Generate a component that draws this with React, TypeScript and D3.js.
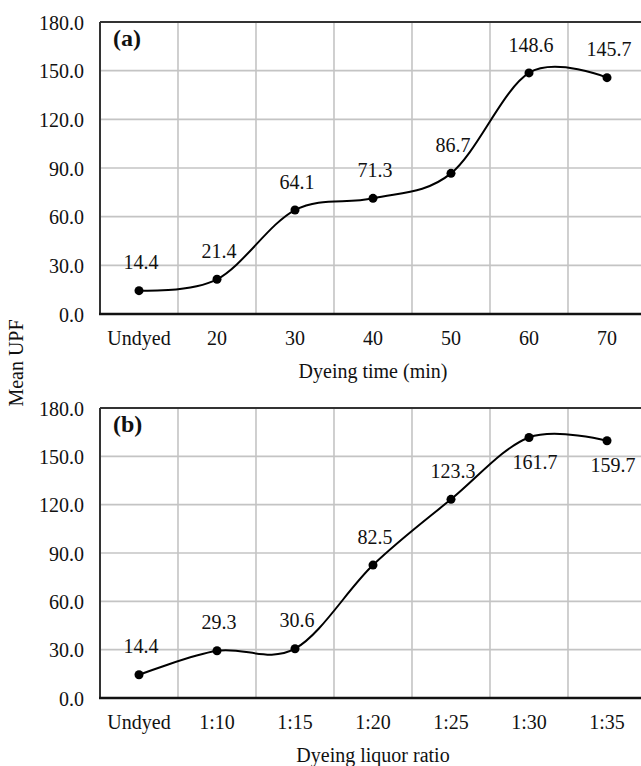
import * as d3 from "d3";

const timeCategories = ["Undyed", "20", "30", "40", "50", "60", "70"];
const timeUpf = [14.4, 21.4, 64.1, 71.3, 86.7, 148.6, 145.7];

const ratioCategories = ["Undyed", "1:10", "1:15", "1:20", "1:25", "1:30", "1:35"];
const ratioUpf = [14.4, 29.3, 30.6, 82.5, 123.3, 161.7, 159.7];
// labels of the last two points of (b) sit below the marker
const ratioLabelBelow = [false, false, false, false, false, true, true];

const yTicks = [0, 30, 60, 90, 120, 150, 180];

const width = 641;
const height = 766;
const left = 100;
const bandWidth = 78;
const font = "'Liberation Serif', 'Times New Roman', serif";

type PanelProps = {
  tag: string;
  categories: string[];
  values: number[];
  below?: boolean[];
  title: string;
  top: number;
  bottom: number;
};

function Panel({ tag, categories, values, below, title, top, bottom }: PanelProps) {
  const x = d3
    .scaleBand<string>()
    .domain(categories)
    .range([left, left + bandWidth * categories.length])
    .padding(0);
  const y = d3.scaleLinear().domain([0, 180]).range([bottom, top]);
  const right = left + bandWidth * categories.length;

  const points = categories.map((c, i) => ({ c, v: values[i] }));
  const line = d3
    .line<{ c: string; v: number }>()
    .x((d) => (x(d.c) ?? 0) + x.bandwidth() / 2)
    .y((d) => y(d.v))
    .curve(d3.curveCardinal.tension(0));

  return (
    <g>
      {/* horizontal grid */}
      {yTicks.slice(1, -1).map((t) => (
        <line key={"h" + t} x1={left} x2={right} y1={y(t)} y2={y(t)} stroke="#c4c4c4" strokeWidth={1.6} />
      ))}
      {/* vertical grid at category boundaries */}
      {categories.slice(1).map((c) => (
        <line key={"v" + c} x1={x(c)} x2={x(c)} y1={top} y2={bottom} stroke="#c4c4c4" strokeWidth={1.6} />
      ))}
      {/* frame */}
      <line x1={left} x2={right} y1={top} y2={top} stroke="#333" strokeWidth={2} />
      <line x1={left} x2={left} y1={top} y2={bottom} stroke="#333" strokeWidth={2} />
      <line x1={right} x2={right} y1={top} y2={bottom} stroke="#333" strokeWidth={2} />
      <line x1={left - 1} x2={right} y1={bottom} y2={bottom} stroke="#111" strokeWidth={2.6} />

      {/* y tick labels */}
      {yTicks.map((t) => (
        <text key={"y" + t} x={84} y={y(t) + 3} textAnchor="end" dominantBaseline="middle" fontSize={20} fill="#111">
          {t.toFixed(1)}
        </text>
      ))}

      {/* x tick labels */}
      {categories.map((c) => (
        <text
          key={"x" + c}
          x={(x(c) ?? 0) + x.bandwidth() / 2}
          y={bottom + 26}
          textAnchor="middle"
          dominantBaseline="middle"
          fontSize={20}
          fill="#111"
        >
          {c}
        </text>
      ))}

      <text x={373} y={bottom + 59} textAnchor="middle" dominantBaseline="middle" fontSize={20} fill="#111">
        {title}
      </text>

      <text x={113} y={top + 18} dominantBaseline="middle" fontSize={24} fontWeight="bold" fill="#111">
        {tag}
      </text>

      <path d={line(points) ?? ""} fill="none" stroke="#000" strokeWidth={2} />
      {points.map((p, i) => (
        <circle key={"p" + i} cx={(x(p.c) ?? 0) + x.bandwidth() / 2} cy={y(p.v)} r={4.5} fill="#000" />
      ))}
      {points.map((p, i) => (
        <text
          key={"l" + i}
          x={(x(p.c) ?? 0) + x.bandwidth() / 2 + (below && below[i] ? 6 : 2)}
          y={y(p.v) + (below && below[i] ? 27 : -26)}
          textAnchor="middle"
          dominantBaseline="middle"
          fontSize={20}
          fill="#111"
        >
          {p.v.toFixed(1)}
        </text>
      ))}
    </g>
  );
}

export default function App() {
  return (
    <svg
      width={width}
      height={height}
      style={{ position: "absolute", left: 0, top: 0, background: "#fff" }}
      fontFamily={font}
    >
      <Panel tag="(a)" categories={timeCategories} values={timeUpf} title="Dyeing time (min)" top={22} bottom={314} />
      <Panel
        tag="(b)"
        categories={ratioCategories}
        values={ratioUpf}
        below={ratioLabelBelow}
        title="Dyeing liquor ratio"
        top={408}
        bottom={698}
      />
      <text
        transform="translate(18,363) rotate(-90)"
        textAnchor="middle"
        dominantBaseline="middle"
        fontSize={20}
        fill="#111"
      >
        Mean UPF
      </text>
    </svg>
  );
}
